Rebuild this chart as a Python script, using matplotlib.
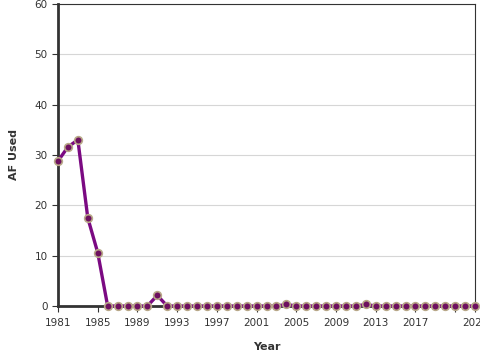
import matplotlib
matplotlib.use("Agg")
import matplotlib.pyplot as plt

years = list(range(1981, 2024))
af_used = [28.8, 31.6, 33.0, 17.5, 10.6, 0, 0, 0, 0, 0,
           2.1, 0, 0, 0, 0, 0, 0, 0, 0, 0,
           0, 0, 0, 0.3, 0, 0, 0, 0, 0, 0,
           0, 0.3, 0, 0, 0, 0, 0, 0, 0, 0,
           0, 0, 0]
xticks = [1981, 1985, 1989, 1993, 1997, 2001, 2005, 2009, 2013, 2017, 2021, 2023]
xticklabels = ["1981", "1985", "1989", "1993", "1997", "2001", "2005", "2009", "2013", "2017", "", "2023"]
yticks = [0, 10, 20, 30, 40, 50, 60]

fig = plt.figure(figsize=(4.8, 3.6), dpi=100)
ax = fig.add_axes([58/480, 54/360, 417/480, 302/360])

ax.plot(years, af_used, color="#7b0a82", lw=2.4, marker="o", ms=5.5,
        mfc="#6e1060", mec="#b8a888", mew=1.2, clip_on=False, zorder=3)

ax.set_xlim(1981, 2023)
ax.set_ylim(0, 60)
ax.set_xticks(xticks)
ax.set_xticklabels(xticklabels)
ax.set_yticks(yticks)
ax.grid(axis="y", color="#d6d6d6", lw=0.8)
ax.set_axisbelow(True)

for s in ["top", "right"]:
    ax.spines[s].set_linewidth(0.8)
    ax.spines[s].set_color("#333333")
for s in ["left", "bottom"]:
    ax.spines[s].set_linewidth(2)
    ax.spines[s].set_color("#333333")

ax.tick_params(labelsize=7.5, colors="#333333", length=4, width=0.8)
ax.tick_params(axis="x", pad=5)
ax.set_xlabel("Year", fontsize=8, fontweight="bold", color="#333333", labelpad=10)
ax.set_ylabel("AF Used", fontsize=8, fontweight="bold", color="#333333", labelpad=11)

fig.savefig("out.png", dpi=100)
